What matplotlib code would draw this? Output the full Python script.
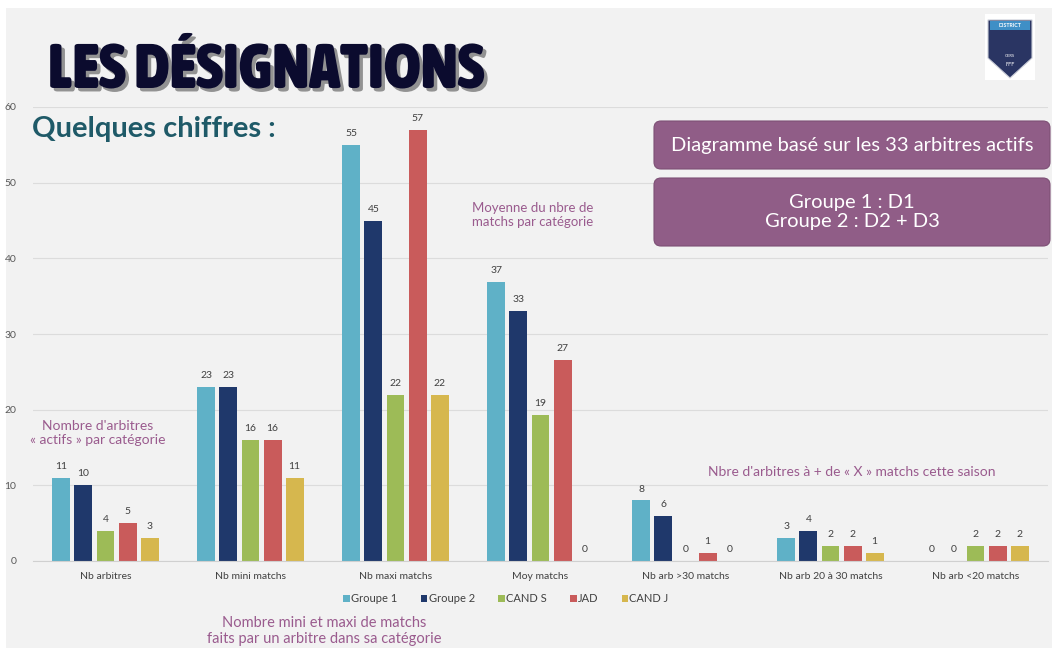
import numpy as np
import matplotlib
matplotlib.use("Agg")
import matplotlib.pyplot as plt
from matplotlib import font_manager
from matplotlib.patches import FancyBboxPatch, Rectangle, Polygon
import matplotlib.patheffects as pe

# ---------------- data ----------------
categories = ["Nb arbitres", "Nb mini matchs", "Nb maxi matchs", "Moy matchs",
              "Nb arb >30 matchs", "Nb arb 20 à 30 matchs", "Nb arb <20 matchs"]
series_names = ["Groupe 1", "Groupe 2", "CAND S", "JAD", "CAND J"]
groupe1 = [11, 23, 55, 36.9, 8, 3, 0]
groupe2 = [10, 23, 45, 33.1, 6, 4, 0]
cand_s = [4, 16, 22, 19.3, 0, 2, 2]
jad = [5, 16, 57, 26.6, 1, 2, 2]
cand_j = [3, 11, 22, 0, 0, 1, 2]
y_ticks = [0, 10, 20, 30, 40, 50, 60]

series = [groupe1, groupe2, cand_s, jad, cand_j]
colors = ["#5fb1c7", "#1f386b", "#9dbb57", "#c95b5b", "#d6b74e"]


def has_font(name):
    try:
        font_manager.findfont(font_manager.FontProperties(family=name),
                              fallback_to_default=False)
        return True
    except Exception:
        return False


body_font = "Lato" if has_font("Lato") else "DejaVu Sans"


def weight_num(w):
    if isinstance(w, (int, float)):
        return w
    return font_manager.weight_dict.get(str(w), 400)


stretch_rank = {"ultra-condensed": 1, "extra-condensed": 2, "condensed": 3,
                "semi-condensed": 4}


def pick_title_font():
    best = None
    for fe in font_manager.fontManager.ttflist:
        st = fe.stretch
        if isinstance(st, (int, float)):
            rank = st / 100.0 if st < 500 else 9
        else:
            rank = stretch_rank.get(str(st), 9)
        w = weight_num(fe.weight)
        if rank <= 4 and w >= 700:
            key = (rank, -w)
            if best is None or key < best[0]:
                best = (key, fe.fname)
    if best is not None:
        return font_manager.FontProperties(fname=best[1])
    return font_manager.FontProperties(family="DejaVu Sans", weight="bold")


plt.rcParams["font.family"] = [body_font, "DejaVu Sans"]

W, H = 1052, 648
fig = plt.figure(figsize=(W / 100, H / 100), dpi=100)
fig.patch.set_facecolor("white")

# background layer (pixel coordinates)
bg = fig.add_axes([0, 0, 1, 1], zorder=0)
bg.set_xlim(0, W)
bg.set_ylim(H, 0)
bg.axis("off")
bg.add_patch(Rectangle((6, 8), W - 6, H - 8, facecolor="#f2f2f2", edgecolor="none"))

# chart axes
ax_left, ax_right = 33, 1048
ax_bottom, ax_top = 561, 107
ax = fig.add_axes([ax_left / W, 1 - ax_bottom / H, (ax_right - ax_left) / W,
                   (ax_bottom - ax_top) / H], zorder=1)
ax.set_facecolor("none")
x = np.arange(len(categories))
pitch = 0.152
bw = 0.124
for i, (vals, name, col) in enumerate(zip(series, series_names, colors)):
    bars = ax.bar(x + (i - 2) * pitch, vals, width=bw, color=col, label=name, zorder=2)
    ax.bar_label(bars, labels=[f"{round(v):d}" for v in vals], padding=5,
                 fontsize=7.5, color="#404040")
ax.set_xlim(-0.5, len(categories) - 0.5)
ax.set_ylim(0, 60)
ax.set_yticks(y_ticks)
ax.set_xticks(x)
ax.set_xticklabels(categories, fontsize=7.5, color="#404040")
ax.tick_params(axis="both", length=0)
ax.tick_params(axis="x", pad=8)
ax.tick_params(axis="y", labelsize=7.5, labelcolor="#595959", pad=12)
ax.grid(axis="y", color="#dcdcdc", linewidth=0.8, zorder=0)
for s in ["top", "right", "left"]:
    ax.spines[s].set_visible(False)
ax.spines["bottom"].set_color("#d0d0d0")
ax.set_axisbelow(True)

leg = fig.legend(loc="center", bbox_to_anchor=(506 / W, 1 - 599 / H), ncol=5,
                 frameon=False, fontsize=8, handlelength=0.6, handleheight=0.6,
                 handletextpad=0.1, columnspacing=2.1)
for t in leg.get_texts():
    t.set_color("#404040")

# front layer (pixel coordinates)
fr = fig.add_axes([0, 0, 1, 1], zorder=2)
fr.set_xlim(0, W)
fr.set_ylim(H, 0)
fr.axis("off")
fr.patch.set_alpha(0)

# title, sized so that it spans the same width as the reference
tprops = pick_title_font()
title = fr.text(48, 88, "LES DÉSIGNATIONS", fontproperties=tprops,
                fontsize=40, color="#0b0b2e", ha="left", va="baseline",
                path_effects=[pe.withSimplePatchShadow(offset=(2.5, -2.5),
                                                      shadow_rgbFace="#444444",
                                                      alpha=0.55)])
if tprops.get_weight() in (400, "normal") and tprops.get_file() is None:
    title.set_fontweight("bold")
renderer = fig.canvas.get_renderer()
tw = title.get_window_extent(renderer).width
target_w = 437.0
new_size = 40 * target_w / tw
title.set_fontsize(min(new_size, 48))

fr.text(32, 137, "Quelques chiffres :", fontsize=21, fontweight="bold",
        color="#1f5a68", ha="left", va="baseline")

purple_txt = "#9a5b8e"
fr.text(98, 433, "Nombre d'arbitres\n« actifs » par catégorie", fontsize=10,
        color=purple_txt, ha="center", va="center", linespacing=1.25)
fr.text(533, 215, "Moyenne du nbre de\nmatchs par catégorie", fontsize=9.5,
        color=purple_txt, ha="center", va="center", linespacing=1.25)
fr.text(324, 631, "Nombre mini et maxi de matchs\nfaits par un arbitre dans sa catégorie",
        fontsize=10.5, color=purple_txt, ha="center", va="center", linespacing=1.15)
fr.text(852, 472, "Nbre d'arbitres à + de « X » matchs cette saison", fontsize=10,
        color=purple_txt, ha="center", va="center")

box_col = "#905d87"
fr.add_patch(FancyBboxPatch((654, 121), 396, 48, boxstyle="round,pad=0,rounding_size=7",
                            facecolor=box_col, edgecolor="#7d4f75", linewidth=0.8))
fr.text(852, 146, "Diagramme basé sur les 33 arbitres actifs", fontsize=14.5,
        color="white", ha="center", va="center")
fr.add_patch(FancyBboxPatch((654, 178), 396, 68, boxstyle="round,pad=0,rounding_size=7",
                            facecolor=box_col, edgecolor="#7d4f75", linewidth=0.8))
fr.text(852, 212, "Groupe 1 : D1\nGroupe 2 : D2 + D3", fontsize=14.5,
        color="white", ha="center", va="center", linespacing=1.2)

# logo (simple shield)
fr.add_patch(Rectangle((985, 14), 50, 66, facecolor="white", edgecolor="none"))
shield = Polygon([(988, 20), (1032, 20), (1032, 58), (1010, 78), (988, 58)],
                 closed=True, facecolor="#2a3563", edgecolor="#c8cbd6", linewidth=0.8)
fr.add_patch(shield)
fr.add_patch(Rectangle((990, 21), 40, 9, facecolor="#3f8fc6", edgecolor="none"))
fr.text(1010, 25.5, "DISTRICT", fontsize=3.8, color="white", ha="center",
        va="center", fontweight="bold")
fr.text(1010, 56, "GERS", fontsize=3, color="white", ha="center", va="center")
fr.text(1010, 64, "FFF", fontsize=4, color="white", ha="center", va="center")

fig.savefig("out.png", dpi=100)
